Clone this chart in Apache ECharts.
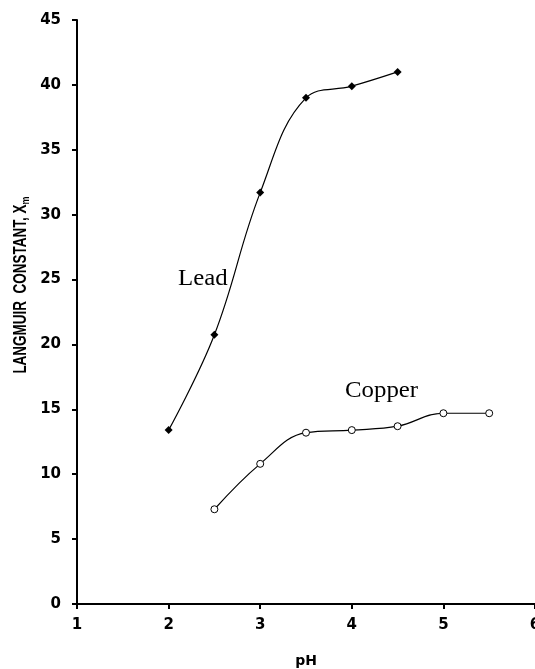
<!DOCTYPE html>
<html>
<head>
<meta charset="utf-8">
<script src="https://cdn.jsdelivr.net/npm/echarts@6/dist/echarts.min.js"></script>
<style>
  html, body { margin: 0; padding: 0; background: #fff; }
  #chart { width: 535px; height: 669px; }
</style>
</head>
<body>
<div id="chart"></div>
<script>
// Langmuir constant X_m versus pH for lead and copper uptake
var leadPH = [2, 2.5, 3, 3.5, 4, 4.5];
var leadXm = [13.4, 20.75, 31.7, 39.0, 39.9, 41.0];

var copperPH = [2.5, 3, 3.5, 4, 4.5, 5, 5.5];
var copperXm = [7.3, 10.8, 13.2, 13.4, 13.7, 14.7, 14.7];

var xTicks = [1, 2, 3, 4, 5, 6];
var yTicks = [0, 5, 10, 15, 20, 25, 30, 35, 40, 45];

function pairs(xs, ys) {
  return xs.map(function (x, i) { return [x, ys[i]]; });
}

var tickFont = 'DejaVu Sans, Verdana, sans-serif';
var axisFont = 'Liberation Sans, Arial, sans-serif';
var serifFont = 'Liberation Serif, Times New Roman, serif';

var chart = echarts.init(document.getElementById('chart'));
chart.setOption({
  animation: false,
  backgroundColor: '#ffffff',
  grid: { left: 77, right: 0, top: 20, bottom: 65, containLabel: false, outerBoundsMode: 'none' },
  xAxis: {
    type: 'value',
    min: xTicks[0],
    max: xTicks[xTicks.length - 1],
    interval: 1,
    name: 'pH',
    nameLocation: 'middle',
    nameGap: 50,
    nameTextStyle: { fontFamily: tickFont, fontWeight: 'bold', fontSize: 14, color: '#000' },
    axisLine: { lineStyle: { color: '#000', width: 2 } },
    axisTick: { show: true, length: 5, lineStyle: { color: '#000', width: 2 } },
    axisLabel: { margin: 14, fontFamily: tickFont, fontWeight: 'bold', fontSize: 15, color: '#000' },
    splitLine: { show: false }
  },
  yAxis: {
    type: 'value',
    min: yTicks[0],
    max: yTicks[yTicks.length - 1],
    interval: 5,
    axisLine: { show: true, lineStyle: { color: '#000', width: 2 } },
    axisTick: { show: true, length: 5, lineStyle: { color: '#000', width: 2 } },
    axisLabel: { margin: 16, fontFamily: tickFont, fontWeight: 'bold', fontSize: 15, color: '#000' },
    splitLine: { show: false }
  },
  series: [
    {
      name: 'Lead',
      type: 'line',
      data: pairs(leadPH, leadXm),
      smooth: 0.4,
      symbol: 'diamond',
      symbolSize: 8,
      itemStyle: { color: '#000' },
      lineStyle: { color: '#000', width: 1.2 }
    },
    {
      name: 'Copper',
      type: 'line',
      data: pairs(copperPH, copperXm),
      smooth: 0.4,
      symbol: 'circle',
      symbolSize: 7,
      itemStyle: { color: '#fff', borderColor: '#000', borderWidth: 1 },
      lineStyle: { color: '#000', width: 1.2 }
    }
  ],
  graphic: [
    {
      type: 'text',
      x: 178, y: 279, scaleX: 1.08,
      style: { text: 'Lead', font: '23px ' + serifFont, fill: '#000', verticalAlign: 'middle' }
    },
    {
      type: 'text',
      x: 345, y: 391, scaleX: 1.08,
      style: { text: 'Copper', font: '23px ' + serifFont, fill: '#000', verticalAlign: 'middle' }
    },
    {
      type: 'text',
      x: 21, y: 285,
      rotation: Math.PI / 2,
      scaleY: 1.3,
      style: {
        text: '{a|LANGMUIR  CONSTANT, X}{s|m}',
        align: 'center',
        verticalAlign: 'middle',
        rich: {
          a: { fontFamily: axisFont, fontWeight: 'bold', fontSize: 13.5, color: '#000', lineHeight: 16 },
          s: { fontFamily: axisFont, fontWeight: 'bold', fontSize: 9, color: '#000', lineHeight: 16, verticalAlign: 'bottom', padding: [6, 0, 0, 0] }
        }
      }
    }
  ]
});
</script>
</body>
</html>
